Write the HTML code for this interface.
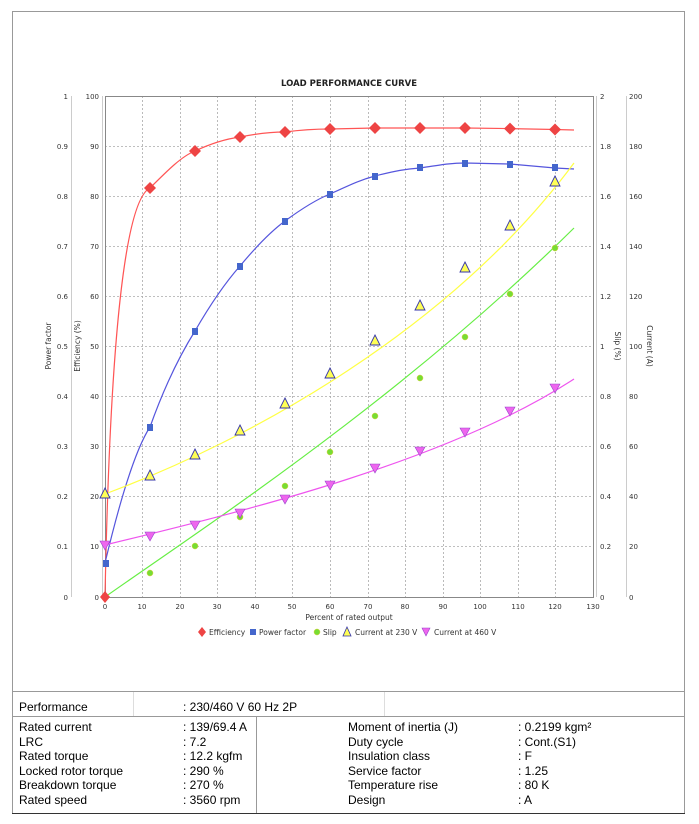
<!DOCTYPE html>
<html><head><meta charset="utf-8"><style>
body{margin:0;background:#fff;width:699px;height:824px;overflow:hidden;font-family:"Liberation Sans",sans-serif}
.t{position:absolute;font-size:12px;color:#000}
</style></head><body>
<svg width="699" height="824" style="position:absolute;left:0;top:0" font-family="DejaVu Sans, sans-serif">
<rect x="12.5" y="11.5" width="672" height="802" fill="none" stroke="#999"/>
<line x1="12" y1="691.5" x2="685" y2="691.5" stroke="#999"/>
<line x1="12" y1="716.5" x2="685" y2="716.5" stroke="#999"/>
<line x1="256.5" y1="716" x2="256.5" y2="813" stroke="#999"/>
<line x1="133.5" y1="692" x2="133.5" y2="716" stroke="#ddd"/>
<line x1="384.5" y1="692" x2="384.5" y2="716" stroke="#ddd"/>
<line x1="12" y1="813.5" x2="685" y2="813.5" stroke="#333"/>
<text x="349" y="86" font-size="8.5" font-weight="bold" text-anchor="middle" fill="#222">LOAD PERFORMANCE CURVE</text>
<g stroke="#aaa" stroke-dasharray="2,2" stroke-width="0.8">
<line x1="142.5" y1="96" x2="142.5" y2="597"/><line x1="180.5" y1="96" x2="180.5" y2="597"/><line x1="217.5" y1="96" x2="217.5" y2="597"/><line x1="255.5" y1="96" x2="255.5" y2="597"/><line x1="292.5" y1="96" x2="292.5" y2="597"/><line x1="330.5" y1="96" x2="330.5" y2="597"/><line x1="368.5" y1="96" x2="368.5" y2="597"/><line x1="405.5" y1="96" x2="405.5" y2="597"/><line x1="443.5" y1="96" x2="443.5" y2="597"/><line x1="480.5" y1="96" x2="480.5" y2="597"/><line x1="518.5" y1="96" x2="518.5" y2="597"/><line x1="555.5" y1="96" x2="555.5" y2="597"/>
<line x1="105" y1="146.5" x2="593" y2="146.5"/><line x1="105" y1="196.5" x2="593" y2="196.5"/><line x1="105" y1="246.5" x2="593" y2="246.5"/><line x1="105" y1="296.5" x2="593" y2="296.5"/><line x1="105" y1="346.5" x2="593" y2="346.5"/><line x1="105" y1="396.5" x2="593" y2="396.5"/><line x1="105" y1="446.5" x2="593" y2="446.5"/><line x1="105" y1="496.5" x2="593" y2="496.5"/><line x1="105" y1="546.5" x2="593" y2="546.5"/>
</g>
<rect x="105.5" y="96.5" width="488" height="501" fill="none" stroke="#888"/>
<g stroke="#ccc"><line x1="71.5" y1="96" x2="71.5" y2="597"/><line x1="102.5" y1="96" x2="102.5" y2="597"/><line x1="596.5" y1="96" x2="596.5" y2="597"/><line x1="626.5" y1="96" x2="626.5" y2="597"/></g>
<g font-size="7" fill="#333">
<g text-anchor="end">
<text x="68" y="99">1</text><text x="68" y="149">0.9</text><text x="68" y="199">0.8</text><text x="68" y="249">0.7</text><text x="68" y="299">0.6</text><text x="68" y="349">0.5</text><text x="68" y="399">0.4</text><text x="68" y="449">0.3</text><text x="68" y="499">0.2</text><text x="68" y="549">0.1</text><text x="68" y="600">0</text>
<text x="99" y="99">100</text><text x="99" y="149">90</text><text x="99" y="199">80</text><text x="99" y="249">70</text><text x="99" y="299">60</text><text x="99" y="349">50</text><text x="99" y="399">40</text><text x="99" y="449">30</text><text x="99" y="499">20</text><text x="99" y="549">10</text><text x="99" y="600">0</text>
</g>
<text x="600" y="99">2</text><text x="600" y="149">1.8</text><text x="600" y="199">1.6</text><text x="600" y="249">1.4</text><text x="600" y="299">1.2</text><text x="600" y="349">1</text><text x="600" y="399">0.8</text><text x="600" y="449">0.6</text><text x="600" y="499">0.4</text><text x="600" y="549">0.2</text><text x="600" y="600">0</text>
<text x="629" y="99">200</text><text x="629" y="149">180</text><text x="629" y="199">160</text><text x="629" y="249">140</text><text x="629" y="299">120</text><text x="629" y="349">100</text><text x="629" y="399">80</text><text x="629" y="449">60</text><text x="629" y="499">40</text><text x="629" y="549">20</text><text x="629" y="600">0</text>
<g text-anchor="middle">
<text x="105" y="609">0</text><text x="142" y="609">10</text><text x="180" y="609">20</text><text x="217" y="609">30</text><text x="255" y="609">40</text><text x="292" y="609">50</text><text x="330" y="609">60</text><text x="368" y="609">70</text><text x="405" y="609">80</text><text x="443" y="609">90</text><text x="480" y="609">100</text><text x="518" y="609">110</text><text x="555" y="609">120</text><text x="593" y="609">130</text>
</g>
</g>
<g font-size="7.5" fill="#333" text-anchor="middle">
<text x="349" y="620">Percent of rated output</text>
<text transform="translate(51,346) rotate(-90)">Power factor</text>
<text transform="translate(80,346) rotate(-90)">Efficiency (%)</text>
<text transform="translate(615,346) rotate(90)">Slip (%)</text>
<text transform="translate(647,346) rotate(90)">Current (A)</text>
</g>
<g fill="none" stroke-width="1.2">
<path d="M105,597 C110,340 125,200 150,188 C168,170 182,156 195,151 C210,144 225,139 240,137 C255,134 270,132 285,132 C300,130 315,129 330,129 L375,128 L465,128 L510,128.6 L555,129.5 L574,130" stroke="#ff5555"/>
<path d="M105,563 C120,500 135,450 150,427 C165,385 180,355 195,331 C210,305 225,283 240,266 C255,248 270,232 285,221 C300,210 315,200 330,194 C350,185 360,180 375,176 C395,171 405,169 420,168 C440,165 450,163 465,163 L510,164 L555,168 L574,169" stroke="#5555dd"/>
<path d="M105,597 C200,530 400,400 574,228" stroke="#66ee44"/>
<path d="M105,494 C250,440 450,330 574,163" stroke="#ffff44"/>
<path d="M105,545 C250,510 450,460 574,379" stroke="#ee55ee"/>
</g>
<g fill="#ee4444">
<path d="M105,591 l5,6 l-5,6 l-5,-6z"/>
<path d="M150,182 l6,6 l-6,6 l-6,-6z"/><path d="M195,145 l6,6 l-6,6 l-6,-6z"/><path d="M240,131 l6,6 l-6,6 l-6,-6z"/><path d="M285,126 l6,6 l-6,6 l-6,-6z"/><path d="M330,123 l6,6 l-6,6 l-6,-6z"/><path d="M375,122 l6,6 l-6,6 l-6,-6z"/><path d="M420,122 l6,6 l-6,6 l-6,-6z"/><path d="M465,122 l6,6 l-6,6 l-6,-6z"/><path d="M510,122.6 l6,6 l-6,6 l-6,-6z"/><path d="M555,123.5 l6,6 l-6,6 l-6,-6z"/>
</g>
<g fill="#4466cc">
<rect x="103" y="560" width="6" height="7"/><rect x="147" y="424" width="6" height="7"/><rect x="192" y="328" width="6" height="7"/><rect x="237" y="263" width="6" height="7"/><rect x="282" y="218" width="6" height="7"/><rect x="327" y="191" width="6" height="7"/><rect x="372" y="173" width="6" height="7"/><rect x="417" y="164" width="6" height="7"/><rect x="462" y="160" width="6" height="7"/><rect x="507" y="161" width="6" height="7"/><rect x="552" y="164" width="6" height="7"/>
</g>
<g fill="#77dd33" stroke="#ddcc33" stroke-width="0.5">
<circle cx="150" cy="573" r="3"/><circle cx="195" cy="546" r="3"/><circle cx="240" cy="517" r="3"/><circle cx="285" cy="486" r="3"/><circle cx="330" cy="452" r="3"/><circle cx="375" cy="416" r="3"/><circle cx="420" cy="378" r="3"/><circle cx="465" cy="337" r="3"/><circle cx="510" cy="294" r="3"/><circle cx="555" cy="248" r="3"/>
</g>
<g fill="#ffff55" stroke="#3333aa" stroke-width="0.9">
<path d="M105,488 l5,10 h-10z"/><path d="M150,470 l5,10 h-10z"/><path d="M195,449 l5,10 h-10z"/><path d="M240,425 l5,10 h-10z"/><path d="M285,398 l5,10 h-10z"/><path d="M330,368 l5,10 h-10z"/><path d="M375,335 l5,10 h-10z"/><path d="M420,300 l5,10 h-10z"/><path d="M465,262 l5,10 h-10z"/><path d="M510,220 l5,10 h-10z"/><path d="M555,176 l5,10 h-10z"/>
</g>
<g fill="#ee66ee" stroke="#9944cc" stroke-width="0.6">
<path d="M100,541 h10 l-5,9z"/><path d="M145,532 h10 l-5,9z"/><path d="M190,521 h10 l-5,9z"/><path d="M235,509 h10 l-5,9z"/><path d="M280,495 h10 l-5,9z"/><path d="M325,481 h10 l-5,9z"/><path d="M370,464 h10 l-5,9z"/><path d="M415,447 h10 l-5,9z"/><path d="M460,428 h10 l-5,9z"/><path d="M505,407 h10 l-5,9z"/><path d="M550,384 h10 l-5,9z"/>
</g>
<g font-size="7.5" fill="#333">
<path d="M202,627 l4,5 l-4,5 l-4,-5z" fill="#ee4444"/><text x="209" y="635">Efficiency</text>
<rect x="250" y="629" width="6" height="6" fill="#4466cc"/><text x="259" y="635">Power factor</text>
<circle cx="317" cy="632" r="3" fill="#77dd33" stroke="#ddcc33" stroke-width="0.5"/><text x="323" y="635">Slip</text>
<path d="M347,627 l4,9 h-8z" fill="#ffff55" stroke="#3333aa" stroke-width="0.8"/><text x="355" y="635">Current at 230 V</text>
<path d="M422,628 h8 l-4,8z" fill="#ee66ee" stroke="#9944cc" stroke-width="0.6"/><text x="434" y="635">Current at 460 V</text>
</g>
</svg>
<div class="t" style="left:19px;top:700px">Performance</div>
<div class="t" style="left:183px;top:700px">: 230/460 V 60 Hz 2P</div>
<div class="t" style="left:19px;top:720px;line-height:14.5px">Rated current<br>LRC<br>Rated torque<br>Locked rotor torque<br>Breakdown torque<br>Rated speed</div>
<div class="t" style="left:183px;top:720px;line-height:14.5px">: 139/69.4 A<br>: 7.2<br>: 12.2 kgfm<br>: 290 %<br>: 270 %<br>: 3560 rpm</div>
<div class="t" style="left:348px;top:720px;line-height:14.5px">Moment of inertia (J)<br>Duty cycle<br>Insulation class<br>Service factor<br>Temperature rise<br>Design</div>
<div class="t" style="left:518px;top:720px;line-height:14.5px">: 0.2199 kgm²<br>: Cont.(S1)<br>: F<br>: 1.25<br>: 80 K<br>: A</div>
</body></html>
